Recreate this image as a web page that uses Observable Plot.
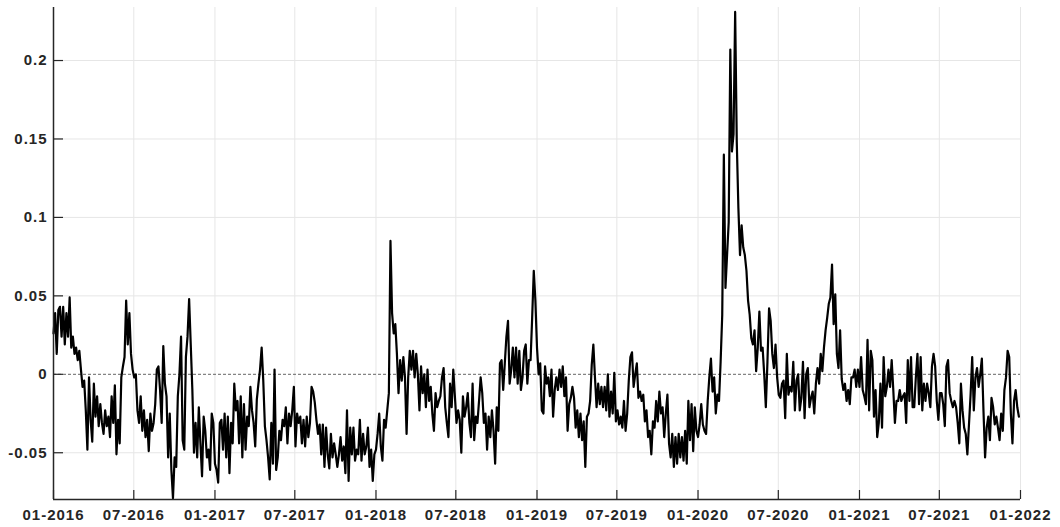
<!DOCTYPE html>
<html>
<head>
<meta charset="utf-8">
<script src="https://cdn.jsdelivr.net/npm/d3@7"></script>
<script src="https://cdn.jsdelivr.net/npm/@observablehq/plot@0.6"></script>
<style>
  html, body { margin: 0; padding: 0; background: #fff; }
  #chart svg { display: block; }
</style>
</head>
<body>
<div id="chart"></div>
<script>
// Each calendar year holds 100 evenly spaced observations.
const years = [2016, 2017, 2018, 2019, 2020, 2021];

const v2016 = [
  0.026, 0.039, 0.013, 0.041, 0.043, 0.024, 0.043, 0.019, 0.039, 0.024,
  0.049, 0.017, 0.024, 0.013, 0.017, 0.009, 0.015, 0.003, -0.008, -0.004,
  -0.023, -0.048, -0.002, -0.029, -0.043, -0.006, -0.027, -0.014, -0.033, -0.019,
  -0.031, -0.038, -0.023, -0.033, -0.027, -0.040, -0.014, -0.031, -0.007, -0.051,
  -0.029, -0.044, -0.002, 0.005, 0.011, 0.047, 0.019, 0.039, 0.013, 0.003,
  -0.002, 0.000, -0.023, -0.031, -0.014, -0.036, -0.023, -0.040, -0.029, -0.049,
  -0.025, -0.036, -0.031, -0.019, 0.003, 0.005, -0.010, -0.031, 0.018, -0.006,
  -0.014, -0.053, -0.025, -0.061, -0.079, -0.053, -0.059, -0.014, 0.000,
  0.024, -0.042, -0.048, 0.011, 0.024, 0.048, 0.019, -0.010, -0.050, -0.031,
  -0.053, -0.021, -0.044, -0.065, -0.027, -0.036, -0.053, -0.048, -0.061, -0.025, -0.031
];

const v2017 = [
  -0.057, -0.061, -0.069, -0.031, -0.029, -0.048, -0.025, -0.053, -0.027, -0.063,
  -0.031, -0.044, -0.006, -0.023, -0.017, -0.044, -0.014, -0.053, -0.019, -0.048,
  -0.027, -0.033, -0.008, -0.023, -0.031, -0.046, -0.016, -0.006, 0.003, 0.017,
  -0.004, -0.033, -0.042, -0.053, -0.067, -0.031, -0.057, 0.003, -0.061, -0.053,
  -0.036, -0.042, -0.029, -0.033, -0.021, -0.044, -0.025, -0.033, -0.023, -0.008,
  -0.046, -0.025, -0.031, -0.027, -0.044, -0.029, -0.046, -0.027, -0.040, -0.031,
  -0.008, -0.011, -0.018, -0.029, -0.038, -0.032, -0.051, -0.032, -0.059, -0.034,
  -0.051, -0.060, -0.038, -0.053, -0.044, -0.051, -0.059, -0.051, -0.040, -0.055,
  -0.046, -0.063, -0.023, -0.068, -0.034, -0.051, -0.034, -0.055, -0.048, -0.051,
  -0.029, -0.055, -0.038, -0.051, -0.046, -0.034, -0.059, -0.048, -0.068, -0.051
];

const v2018 = [
  -0.048, -0.038, -0.025, -0.046, -0.055, -0.029, -0.034, -0.023, -0.012, 0.085,
  0.039, 0.026, 0.032, 0.013, -0.012, 0.009, -0.004, 0.011, -0.002, -0.038,
  -0.002, 0.015, 0.003, 0.015, -0.002, 0.013, 0.000, -0.023, 0.005, -0.012,
  0.000, -0.021, 0.003, -0.017, -0.008, -0.025, -0.036, -0.012, -0.021, -0.017,
  -0.014, -0.002, 0.004, -0.021, -0.031, -0.040, -0.006, -0.021, 0.003, -0.014,
  -0.031, -0.023, -0.029, -0.050, -0.014, -0.027, -0.021, -0.012, -0.031, -0.040,
  -0.006, -0.042, -0.027, -0.031, -0.017, -0.002, -0.012, -0.031, -0.025, -0.048,
  -0.027, -0.040, -0.023, -0.036, -0.057, -0.021, -0.036, 0.007, 0.009, -0.010,
  0.007, 0.024, 0.034, -0.006, 0.003, 0.017, -0.002, 0.017, -0.006, 0.015,
  -0.010, -0.002, 0.015, 0.019, -0.006, 0.009, 0.009, 0.036, 0.066, 0.047
];

const v2019 = [
  0.017, 0.000, 0.007, -0.023, -0.025, 0.005, -0.006, -0.002, -0.014, 0.003,
  -0.027, -0.010, -0.002, -0.010, 0.003, -0.008, 0.005, -0.014, -0.002, -0.036,
  -0.019, -0.015, -0.008, -0.015, -0.034, -0.023, -0.040, -0.025, -0.042, -0.030,
  -0.059, -0.027, -0.025, -0.017, 0.006, 0.019, -0.002, -0.021, -0.006, -0.019,
  -0.008, -0.021, -0.008, -0.023, 0.000, -0.027, -0.011, -0.025, 0.001, -0.030,
  -0.023, -0.032, -0.027, -0.034, -0.017, -0.036, -0.025, -0.004, 0.011, 0.014,
  -0.008, 0.000, 0.007, -0.015, -0.011, -0.017, -0.013, -0.030, -0.023, -0.040,
  -0.036, -0.051, -0.030, -0.034, -0.017, -0.030, -0.011, -0.025, -0.021, -0.040,
  -0.025, -0.013, -0.044, -0.053, -0.038, -0.059, -0.040, -0.057, -0.038, -0.053,
  -0.040, -0.055, -0.036, -0.057, -0.017, -0.042, -0.019, -0.049, -0.021, -0.036
];

const v2020 = [
  -0.040, -0.032, -0.019, -0.032, -0.036, -0.038, -0.017, -0.002, 0.010, -0.011,
  -0.002, -0.025, -0.013, -0.017, 0.008, 0.038, 0.140, 0.055, 0.076, 0.097,
  0.207, 0.142, 0.153, 0.231, 0.148, 0.106, 0.076, 0.095, 0.081, 0.076,
  0.066, 0.047, 0.038, 0.023, 0.019, 0.028, 0.002, 0.017, 0.040, 0.015,
  0.017, 0.000, -0.021, 0.008, 0.042, 0.034, 0.013, 0.004, 0.019, -0.002,
  -0.013, -0.015, -0.006, -0.004, -0.028, 0.013, -0.013, -0.008, -0.011, 0.008,
  -0.023, -0.004, 0.000, -0.023, -0.015, 0.008, -0.028, 0.000, 0.004, -0.021,
  -0.015, -0.011, -0.025, -0.006, 0.004, -0.006, 0.013, 0.002, 0.017, 0.028,
  0.036, 0.045, 0.049, 0.070, 0.032, 0.051, 0.013, 0.004, 0.028, -0.003,
  -0.010, -0.006, -0.017, -0.010, -0.019, -0.002, -0.002, 0.003, -0.008, 0.003
];

const v2021 = [
  -0.008, 0.011, -0.010, -0.014, -0.019, 0.022, -0.023, 0.015, 0.009, -0.027,
  -0.010, -0.040, -0.031, -0.006, -0.034, 0.011, -0.014, -0.008, 0.003, -0.008,
  0.009, -0.010, -0.031, -0.017, -0.017, -0.010, -0.017, -0.014, -0.012, -0.031,
  0.009, -0.017, 0.011, -0.021, -0.021, -0.002, 0.013, -0.019, 0.011, -0.023,
  -0.006, -0.017, -0.006, -0.012, -0.021, 0.005, 0.013, 0.005, -0.017, -0.029,
  -0.012, -0.012, -0.019, -0.033, 0.005, 0.009, -0.012, -0.017, -0.021, -0.017,
  -0.021, -0.031, -0.044, -0.006, -0.023, -0.034, -0.038, -0.051, -0.032, -0.013,
  0.011, -0.023, -0.002, 0.004, -0.008, 0.000, 0.010, -0.023, -0.053, -0.034,
  -0.027, -0.042, -0.015, -0.021, -0.032, -0.027, -0.034, -0.042, -0.025, -0.036,
  -0.010, -0.002, 0.015, 0.011, -0.025, -0.044, -0.017, -0.010, -0.021, -0.027
];

const valuesByYear = [v2016, v2017, v2018, v2019, v2020, v2021];

const xTickLabels = ["2016-01-01", "2016-07-01", "2017-01-01", "2017-07-01", "2018-01-01",
  "2018-07-01", "2019-01-01", "2019-07-01", "2020-01-01", "2020-07-01", "2021-01-01",
  "2021-07-01", "2022-01-01"];
const yTicks = [-0.05, 0, 0.05, 0.1, 0.15, 0.2];

// Spread each year's observations evenly through that year.
const series = [];
years.forEach((yr, i) => {
  const start = Date.UTC(yr, 0, 1), end = Date.UTC(yr + 1, 0, 1);
  const vals = valuesByYear[i];
  vals.forEach((v, j) => {
    series.push({date: new Date(start + (end - start) * j / vals.length), value: v});
  });
});

const xTicks = xTickLabels.map(d => new Date(d + "T00:00:00Z"));
const xDomain = [xTicks[0], xTicks[xTicks.length - 1]];
const yDomain = [-0.0798, 0.2338];
const ink = "#262626";
const gridColor = "#e6e6e6";

const chart = Plot.plot({
  width: 1060,
  height: 527,
  marginLeft: 53,
  marginRight: 40,
  marginTop: 7,
  marginBottom: 28,
  style: {
    fontFamily: "'Liberation Sans', Arial, Helvetica, sans-serif",
    fontSize: "15px",
    fontWeight: "bold",
    letterSpacing: "1px",
    color: ink,
    background: "#fff"
  },
  x: {type: "utc", domain: xDomain},
  y: {domain: yDomain},
  marks: [
    Plot.gridX(xTicks, {stroke: gridColor, strokeOpacity: 1}),
    Plot.gridY(yTicks.filter(d => d !== 0), {stroke: gridColor, strokeOpacity: 1}),
    Plot.ruleY([0], {stroke: "#555", strokeWidth: 0.9, strokeDasharray: "3,2"}),
    Plot.lineY(series, {x: "date", y: "value", stroke: "#000", strokeWidth: 2.2, strokeLinejoin: "round"}),
    Plot.axisX(xTicks, {
      anchor: "bottom", label: null, tickSize: -9, tickPadding: 19, strokeWidth: 1.2,
      tickFormat: d3.utcFormat("%m-%Y")
    }),
    Plot.axisY(yTicks, {
      anchor: "left", label: null, tickSize: -10, tickPadding: 16, strokeWidth: 1.2,
      tickFormat: d => String(d)
    }),
    Plot.ruleX([xDomain[0]], {stroke: ink, strokeWidth: 1.5}),
    Plot.ruleY([yDomain[0]], {stroke: ink, strokeWidth: 1.5})
  ]
});

document.getElementById("chart").appendChild(chart);
</script>
</body>
</html>
